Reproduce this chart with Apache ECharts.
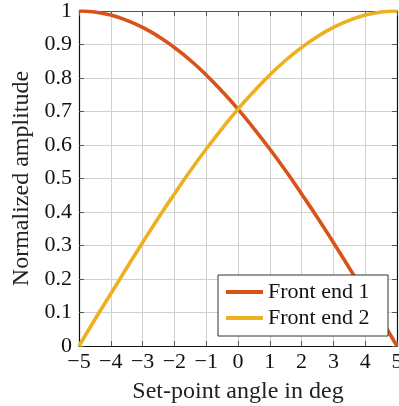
<!DOCTYPE html>
<html>
<head>
<meta charset="utf-8">
<script src="https://cdn.jsdelivr.net/npm/echarts@6/dist/echarts.min.js"></script>
<style>
  html, body { margin: 0; padding: 0; background: #fff; }
  #chart { width: 399px; height: 406px; }
</style>
</head>
<body>
<div id="chart"></div>
<script>
// Set-point angles (deg) and normalized amplitudes of the two front ends
const angles = [-5, -4.5, -4, -3.5, -3, -2.5, -2, -1.5, -1, -0.5, 0,
                0.5, 1, 1.5, 2, 2.5, 3, 3.5, 4, 4.5, 5];
const frontEnd1 = [1.000, 0.997, 0.988, 0.972, 0.951, 0.924, 0.891, 0.853, 0.809, 0.760, 0.707,
                   0.649, 0.588, 0.523, 0.454, 0.383, 0.309, 0.233, 0.156, 0.079, 0.000];
const frontEnd2 = [0.000, 0.079, 0.156, 0.233, 0.309, 0.383, 0.454, 0.523, 0.588, 0.649, 0.707,
                   0.760, 0.809, 0.853, 0.891, 0.924, 0.951, 0.972, 0.988, 0.997, 1.000];
const seriesNames = ['Front end 1', 'Front end 2'];
const xTicks = [-5, -4, -3, -2, -1, 0, 1, 2, 3, 4, 5];
const yTicks = [0, 0.1, 0.2, 0.3, 0.4, 0.5, 0.6, 0.7, 0.8, 0.9, 1];

const FONT = '"Liberation Serif", "DejaVu Serif", serif';
const fmtNum = v => (v < 0 ? '\u2212' + Math.abs(v) : String(v));

const chart = echarts.init(document.getElementById('chart'), null, { renderer: 'canvas' });

const tickStyle = { show: true, inside: true, length: 5, lineStyle: { color: '#555', width: 1 } };
const gridLine = { show: true, lineStyle: { color: '#d0d0d0', width: 1 } };

chart.setOption({
  animation: false,
  backgroundColor: '#fff',
  textStyle: { fontFamily: FONT },
  grid: { left: 79, right: 2, top: 11, bottom: 60, containLabel: false, outerBoundsMode: 'none' },
  legend: {
    right: 11, bottom: 70,
    orient: 'vertical',
    data: seriesNames,
    backgroundColor: '#fff',
    borderColor: '#333', borderWidth: 1, borderRadius: 0,
    padding: [6, 12, 7, 8],
    itemGap: 4,
    itemWidth: 37, itemHeight: 4,
    icon: 'rect',
    textStyle: { fontFamily: FONT, fontSize: 22, lineHeight: 22, color: '#111',
                 width: 108, padding: [0, 0, 0, 0] }
  },
  xAxis: [{
    type: 'value', min: -5, max: 5, interval: 1,
    name: 'Set-point angle in deg', nameLocation: 'middle', nameGap: 34,
    nameTextStyle: { fontFamily: FONT, fontSize: 24, color: '#222' },
    axisLine: { show: true, onZero: false, lineStyle: { color: '#111', width: 1.2 } },
    axisTick: tickStyle,
    axisLabel: { fontFamily: FONT, fontSize: 22, color: '#111', margin: 5,
                 formatter: v => xTicks.includes(v) ? fmtNum(v) : '' },
    splitLine: gridLine
  }, {
    type: 'value', min: -5, max: 5, interval: 1, position: 'top',
    axisLine: { show: true, onZero: false, lineStyle: { color: '#555', width: 1.2 } },
    axisTick: tickStyle, axisLabel: { show: false }, splitLine: { show: false }
  }],
  yAxis: [{
    type: 'value', min: 0, max: 1, interval: 0.1,
    name: 'Normalized amplitude', nameLocation: 'middle', nameGap: 45,
    nameTextStyle: { fontFamily: FONT, fontSize: 24, color: '#222' },
    axisLine: { show: true, onZero: false, lineStyle: { color: '#111', width: 1.2 } },
    axisTick: tickStyle,
    axisLabel: { fontFamily: FONT, fontSize: 22, color: '#111', margin: 7,
                 formatter: v => {
                   const t = yTicks.find(y => Math.abs(y - v) < 1e-9);
                   return t === undefined ? '' : String(t);
                 } },
    splitLine: gridLine
  }, {
    type: 'value', min: 0, max: 1, interval: 0.1, position: 'right',
    axisLine: { show: true, onZero: false, lineStyle: { color: '#111', width: 1.2 } },
    axisTick: tickStyle, axisLabel: { show: false }, splitLine: { show: false }
  }],
  series: [
    {
      name: seriesNames[0], type: 'line', smooth: true, showSymbol: false,
      color: '#D95319',
      lineStyle: { width: 3.6, color: '#D95319' },
      data: angles.map((a, i) => [a, frontEnd1[i]]),
      z: 3
    },
    {
      name: seriesNames[1], type: 'line', smooth: true, showSymbol: false,
      color: '#EDB120',
      lineStyle: { width: 3.6, color: '#EDB120' },
      data: angles.map((a, i) => [a, frontEnd2[i]]),
      z: 4
    }
  ]
});
</script>
</body>
</html>
